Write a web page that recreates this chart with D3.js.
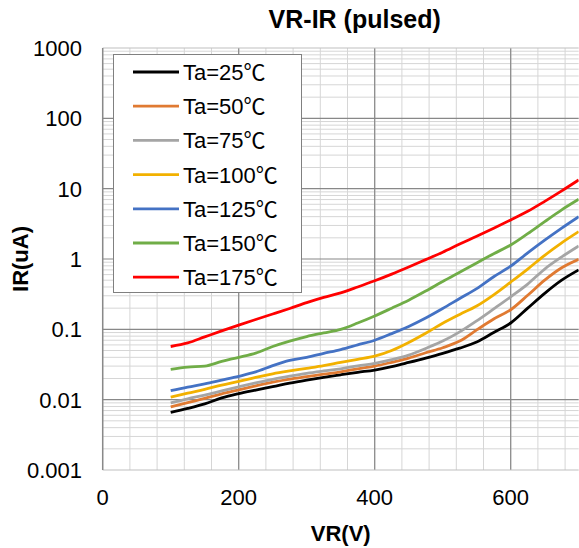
<!DOCTYPE html>
<html lang="en">
<head>
	<meta charset="UTF-8">
	<title>VR-IR (pulsed)</title>
	<style>
		body { margin: 0; background: #fff; }
		text { font-family: "Liberation Sans", Arial, "Noto Sans CJK SC", sans-serif; }
	</style>
</head>
<body>
	<script src="https://d3js.org/d3.v7.min.js"></script>
	<script type="text/javascript">
		// data
		var vr = [100,125,150,175,200,225,250,275,300,325,350,375,400,425,450,475,500,525,550,575,600,625,650,675,700];
		var ir25  = [0.0066,0.0075,0.0087,0.0106,0.0122,0.0137,0.0153,0.0172,0.019,0.0208,0.0226,0.0245,0.0264,0.0295,0.0338,0.039,0.0455,0.054,0.066,0.09,0.123,0.2,0.325,0.50,0.70];
		var ir50  = [0.0079,0.0091,0.0104,0.0121,0.0138,0.0157,0.0177,0.0196,0.0212,0.023,0.0248,0.0275,0.030,0.034,0.039,0.0465,0.0548,0.068,0.098,0.14,0.19,0.305,0.5,0.75,0.99];
		var ir75  = [0.009,0.0103,0.0116,0.0133,0.0152,0.0173,0.0195,0.0216,0.0237,0.0256,0.0275,0.0303,0.0328,0.037,0.043,0.0535,0.068,0.092,0.132,0.195,0.29,0.44,0.72,1.07,1.53];
		var ir100 = [0.0109,0.0124,0.014,0.0161,0.0182,0.0208,0.0233,0.0256,0.0279,0.0305,0.034,0.0375,0.0415,0.050,0.065,0.088,0.122,0.163,0.215,0.31,0.47,0.72,1.13,1.7,2.45];
		var ir125 = [0.0134,0.0151,0.0168,0.019,0.0215,0.0248,0.0305,0.0362,0.040,0.0455,0.0515,0.06,0.07,0.087,0.11,0.145,0.198,0.275,0.38,0.56,0.79,1.22,1.85,2.75,4.0];
		var ir150 = [0.027,0.029,0.030,0.035,0.040,0.046,0.057,0.068,0.079,0.089,0.1,0.123,0.155,0.2,0.26,0.35,0.48,0.65,0.88,1.19,1.58,2.29,3.4,5.0,7.06];
		var ir175 = [0.057,0.064,0.078,0.095,0.115,0.138,0.165,0.198,0.24,0.285,0.33,0.40,0.49,0.61,0.77,0.98,1.25,1.63,2.1,2.73,3.59,4.76,6.6,9.3,13.3];

		var names = ["Ta=25℃","Ta=50℃","Ta=75℃","Ta=100℃","Ta=125℃","Ta=150℃","Ta=175℃"];
		var colors = ["#000000","#e07a32","#a5a5a5","#f2b100","#4472c4","#70ad47","#ff0000"];
		var seriesData = [ir25, ir50, ir75, ir100, ir125, ir150, ir175];

		var xTicks = [0,200,400,600];
		var yTicks = [1000,100,10,1,0.1,0.01,0.001];
		var yLabels = ["1000","100","10","1","0.1","0.01","0.001"];

		var W = 579, H = 548;
		var pL = 102.7, pR = 578.7, pT = 48, pB = 470;

		var svg = d3.select("body").append("svg").attr("width",W).attr("height",H);

		var x = d3.scaleLinear().domain([0,700]).range([pL,pR]);
		var y = d3.scaleLog().domain([0.001,1000]).range([pB,pT]);

		// minor grid
		var minorX = d3.range(0,701,40);
		var minorY = [];
		for (var e = -3; e < 3; e++) {
			for (var k = 2; k <= 9; k++) minorY.push(k * Math.pow(10,e));
		}
		svg.append("g").selectAll("line").data(minorX).enter().append("line")
			.attr("x1",function(d){ return x(d); }).attr("x2",function(d){ return x(d); })
			.attr("y1",pT).attr("y2",pB)
			.attr("stroke","#d6d6d6").attr("stroke-width",1);
		svg.append("g").selectAll("line").data(minorY).enter().append("line")
			.attr("x1",pL).attr("x2",pR)
			.attr("y1",function(d){ return y(d); }).attr("y2",function(d){ return y(d); })
			.attr("stroke","#d6d6d6").attr("stroke-width",1);

		// major grid
		svg.append("g").selectAll("line").data(xTicks.slice(1)).enter().append("line")
			.attr("x1",function(d){ return x(d); }).attr("x2",function(d){ return x(d); })
			.attr("y1",pT).attr("y2",pB)
			.attr("stroke","#888").attr("stroke-width",1.2);
		svg.append("g").selectAll("line").data(yTicks.slice(1,6)).enter().append("line")
			.attr("x1",pL).attr("x2",pR)
			.attr("y1",function(d){ return y(d); }).attr("y2",function(d){ return y(d); })
			.attr("stroke","#888").attr("stroke-width",1.2);
		svg.append("line").attr("x1",pL).attr("x2",pR).attr("y1",pT).attr("y2",pT)
			.attr("stroke","#bfbfbf");
		svg.append("line").attr("x1",pL).attr("x2",pR).attr("y1",pB).attr("y2",pB)
			.attr("stroke","#bfbfbf");
		svg.append("line").attr("x1",pL).attr("x2",pL).attr("y1",pT).attr("y2",pB)
			.attr("stroke","#898989").attr("stroke-width",1.5);

		// curves
		svg.append("clipPath").attr("id","clip").append("rect")
			.attr("x",pL).attr("y",pT).attr("width",pR-pL).attr("height",pB-pT);
		var line = d3.line()
			.x(function(d,i){ return x(vr[i]); })
			.y(function(d){ return y(d); })
			.curve(d3.curveMonotoneX);
		svg.append("g").attr("clip-path","url(#clip)")
			.selectAll("path").data(seriesData).enter().append("path")
			.attr("d",line)
			.attr("fill","none")
			.attr("stroke",function(d,i){ return colors[i]; })
			.attr("stroke-width",2.8)
			.attr("stroke-linejoin","round");

		// axis labels
		svg.append("g").selectAll("text").data(xTicks).enter().append("text")
			.attr("x",function(d){ return x(d); })
			.attr("y",505)
			.attr("text-anchor","middle")
			.attr("font-size",22)
			.text(function(d){ return d; });
		svg.append("g").selectAll("text").data(yTicks).enter().append("text")
			.attr("x",82)
			.attr("y",function(d){ return y(d) + 8; })
			.attr("text-anchor","end")
			.attr("font-size",22)
			.text(function(d,i){ return yLabels[i]; });

		svg.append("text").attr("x",(pL+pR)/2 + 14).attr("y",28)
			.attr("text-anchor","middle").attr("font-size",25).attr("font-weight","bold")
			.text("VR-IR (pulsed)");
		svg.append("text").attr("x",(pL+pR)/2).attr("y",541)
			.attr("text-anchor","middle").attr("font-size",22).attr("font-weight","bold")
			.text("VR(V)");
		svg.append("text")
			.attr("transform","translate(28," + y(1) + ") rotate(-90)")
			.attr("text-anchor","middle").attr("font-size",22).attr("font-weight","bold")
			.text("IR(uA)");

		// legend
		var lg = svg.append("g");
		lg.append("rect").attr("x",113.5).attr("y",54.5).attr("width",188).attr("height",238)
			.attr("fill","#fff").attr("stroke","#808080").attr("stroke-width",1);
		var items = lg.selectAll("g.item").data(names).enter().append("g").attr("class","item")
			.attr("transform",function(d,i){ return "translate(0," + (72 + i*34.2) + ")"; });
		items.append("line").attr("x1",133).attr("x2",179).attr("y1",0).attr("y2",0)
			.attr("stroke",function(d,i){ return colors[i]; }).attr("stroke-width",2.8);
		items.append("text").attr("x",183).attr("y",8).attr("font-size",22)
			.text(function(d){ return d; });
	</script>
</body>
</html>
